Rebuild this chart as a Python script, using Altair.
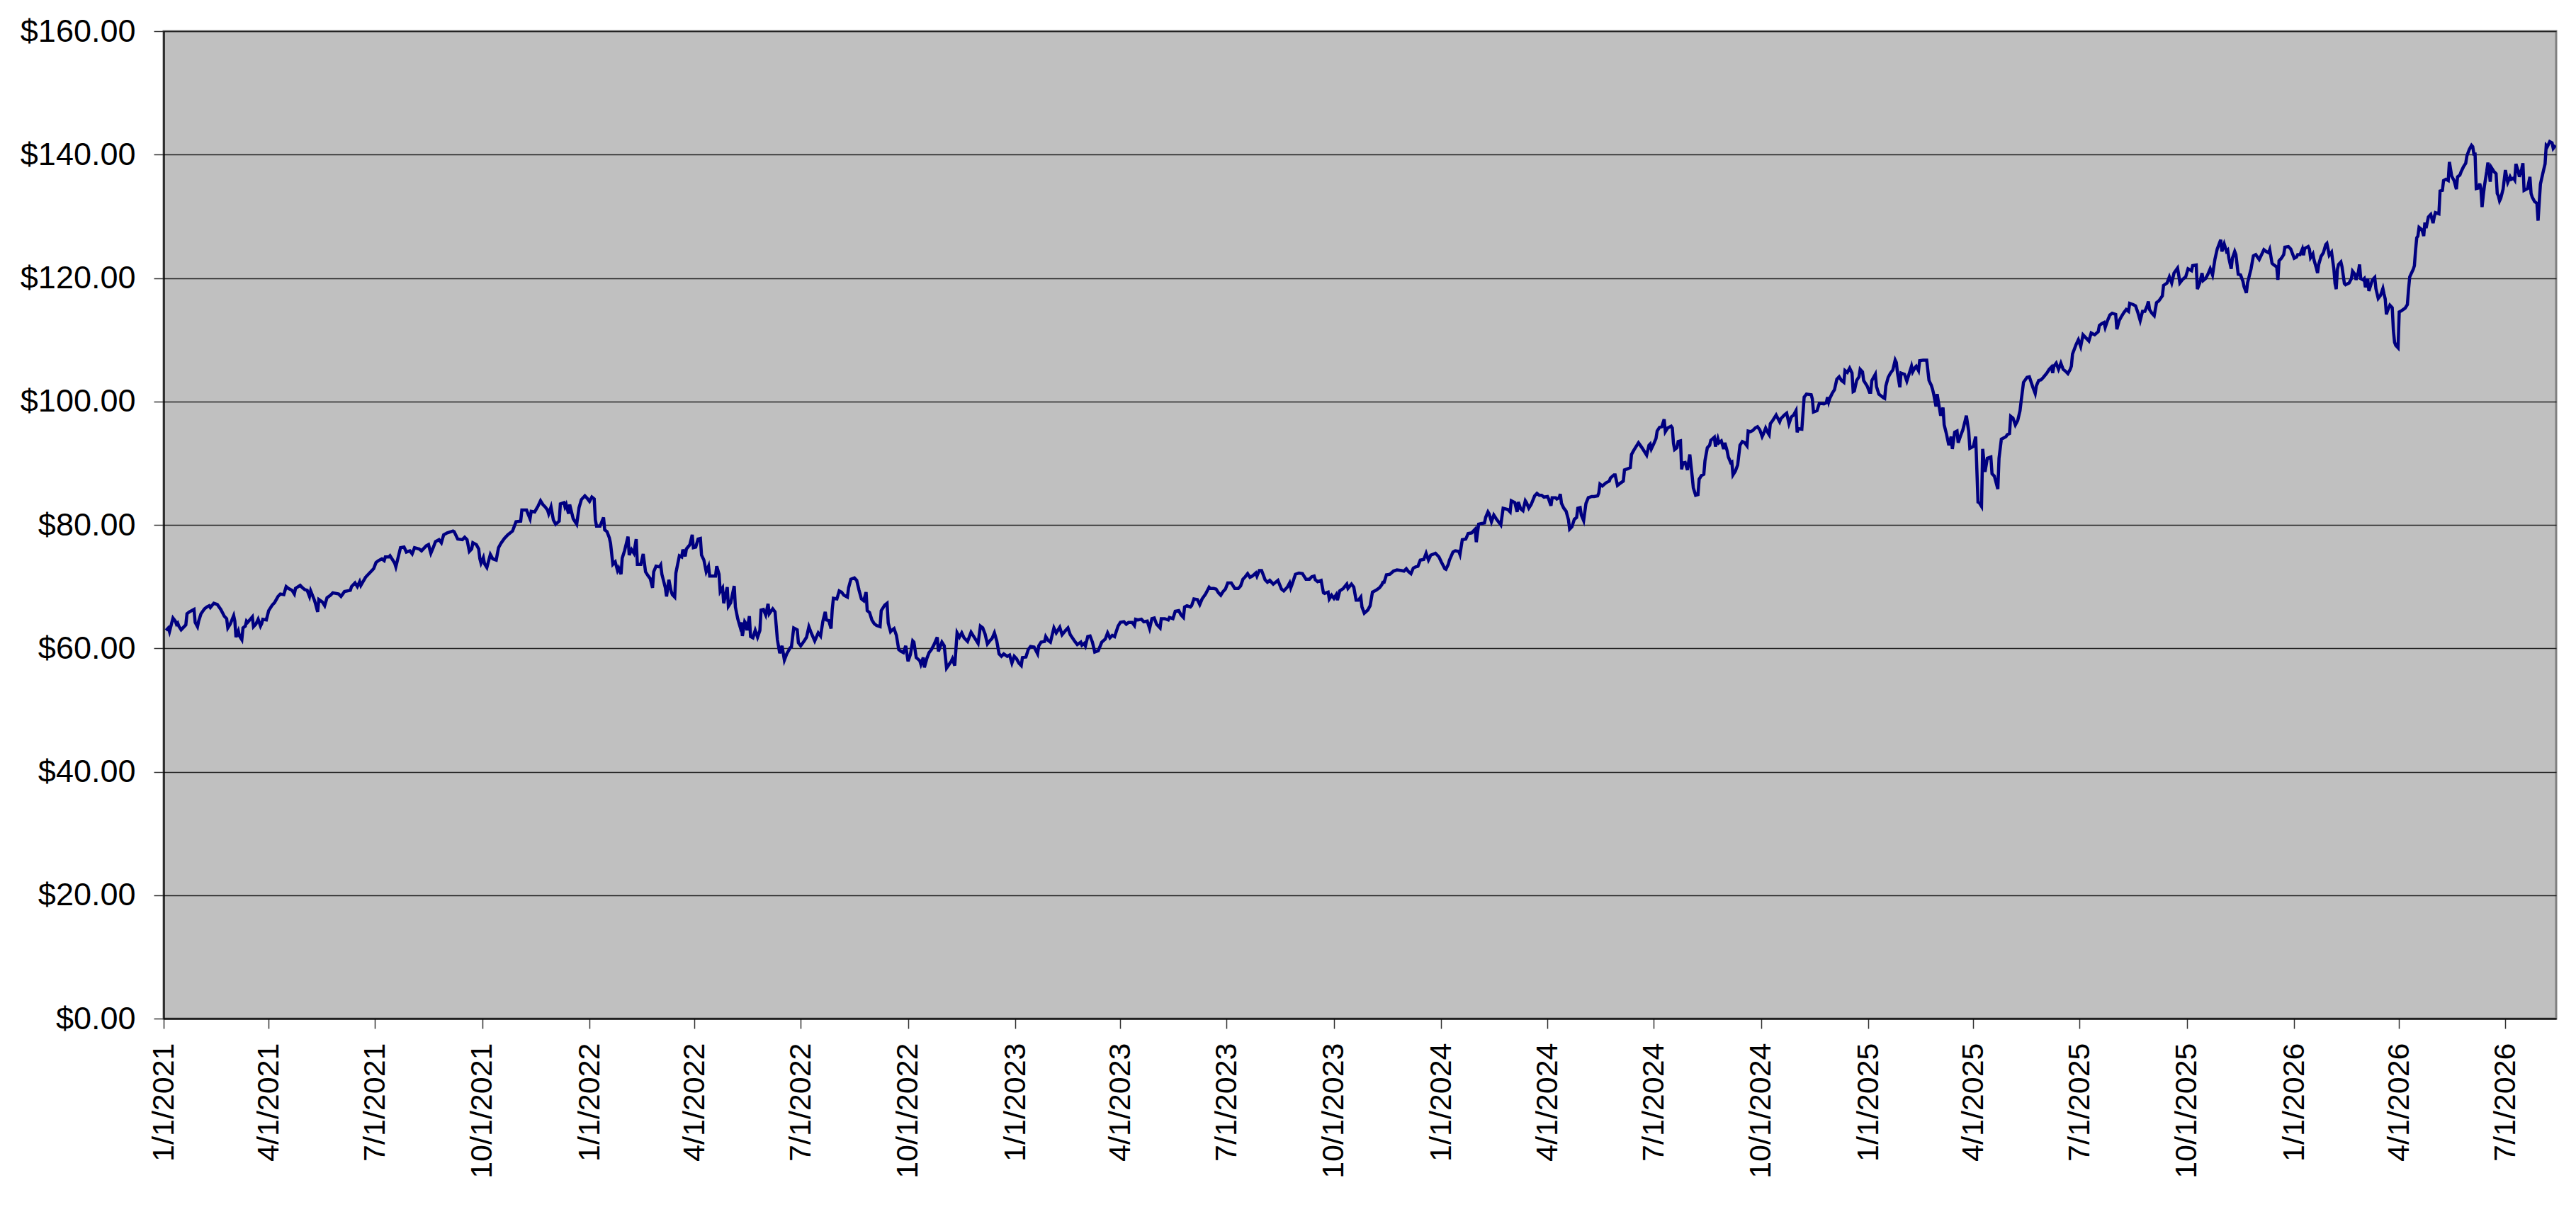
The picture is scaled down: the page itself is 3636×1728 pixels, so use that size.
import altair as alt
import pandas as pd

START_DATE = "2021-01-01"
END_DATE = "2026-08-13T12:00:00"

# (days after 1/1/2021, price)
points_2021 = [
    (2, 62.9), (4, 63.3), (5, 62.7), (8, 64.9), (10, 64.4), (11, 63.9), (12, 64.1), (13, 63.6), (15, 63.0), (17, 63.4),
    (19, 63.8), (20, 65.6), (22, 65.9), (25, 66.2), (26, 66.3), (27, 64.2), (29, 63.5), (30, 64.4), (32, 65.6), (35, 66.4),
    (37, 66.7), (39, 66.9), (40, 66.6), (43, 67.3), (46, 67.1), (49, 66.3), (52, 65.2), (54, 64.8), (55, 63.3), (57, 63.9),
    (60, 65.3), (61, 64.4), (62, 61.8), (64, 62.8), (65, 62.0), (67, 61.4), (68, 63.3), (70, 63.6), (71, 64.4), (72, 64.2),
    (76, 65.1), (77, 63.5), (79, 63.9), (81, 64.7), (83, 63.6), (84, 64.0), (85, 64.7), (88, 64.6), (90, 66.1), (93, 67.0),
    (95, 67.4), (98, 68.4), (100, 68.8), (103, 68.7), (105, 70.0), (107, 69.7), (110, 69.4), (112, 68.8), (113, 69.7), (117, 70.2),
    (119, 69.8), (121, 69.5), (123, 69.4), (125, 68.4), (126, 69.3), (129, 67.9), (130, 67.3), (132, 65.9), (133, 67.9), (136, 67.5),
    (138, 66.9), (140, 68.2), (143, 68.6), (145, 69.0), (150, 68.8), (152, 68.4), (155, 69.2), (160, 69.4), (161, 70.0), (164, 70.6),
    (166, 70.0), (168, 70.8), (169, 70.2), (173, 71.5), (175, 71.9), (180, 72.9), (182, 73.9), (184, 74.2), (187, 74.5), (189, 74.2),
    (190, 74.8), (193, 74.8), (194, 75.0), (198, 73.8), (199, 73.2), (203, 76.3), (206, 76.4), (208, 75.6), (211, 75.8), (213, 75.3),
    (215, 76.3), (219, 76.1), (221, 75.8), (225, 76.6), (227, 76.8), (229, 75.4), (231, 76.3), (233, 77.3), (236, 77.6), (238, 77.1),
    (240, 78.4), (243, 78.7), (248, 79.0), (249, 78.9), (252, 77.7), (256, 77.6), (258, 78.0), (260, 77.6), (262, 75.7), (264, 76.1),
    (265, 77.1), (268, 76.8), (270, 76.1), (271, 74.5), (272, 73.8), (274, 74.7), (275, 73.7), (277, 73.1), (280, 75.2), (282, 74.5),
    (285, 74.3), (287, 76.3), (289, 77.0), (292, 77.8), (295, 78.4), (299, 79.0), (302, 80.5), (306, 80.6), (307, 82.4), (311, 82.4),
    (314, 81.0), (315, 82.2), (318, 82.1), (321, 83.1), (323, 83.9), (325, 83.3), (327, 82.9), (329, 82.4), (330, 81.8), (332, 82.9),
    (334, 80.8), (336, 80.1), (339, 80.6), (340, 83.4), (343, 83.6), (344, 82.9), (345, 83.3), (347, 81.8), (348, 83.3), (351, 81.0),
    (354, 80.1), (356, 82.8), (358, 84.1), (361, 84.7), (363, 84.3), (365, 83.8), (367, 84.5),
]

points_2022 = [
    (369, 84.2), (370, 80.8), (371, 79.8), (374, 79.8), (377, 81.2), (378, 79.2), (380, 78.9), (382, 77.9), (383, 77.0), (385, 73.6),
    (387, 74.0), (389, 72.6), (390, 73.0), (392, 72.0), (393, 74.6), (395, 75.8), (398, 78.1), (399, 75.1), (401, 76.0), (403, 75.4),
    (405, 77.7), (406, 73.6), (409, 73.6), (411, 75.3), (413, 72.4), (415, 71.8), (417, 71.3), (419, 69.8), (420, 72.4), (422, 73.3),
    (425, 73.2), (426, 73.5), (427, 72.0), (430, 69.8), (431, 68.4), (433, 71.1), (435, 69.2), (436, 68.7), (438, 68.3), (439, 72.2),
    (442, 75.0), (444, 74.8), (445, 76.0), (447, 74.9), (448, 76.1), (451, 76.8), (453, 78.4), (454, 76.3), (456, 76.4), (458, 77.7),
    (460, 77.8), (461, 75.1), (463, 74.3), (465, 72.4), (467, 73.3), (468, 71.7), (473, 71.7), (474, 73.3), (476, 72.0), (477, 69.2),
    (479, 69.8), (480, 67.3), (483, 69.9), (484, 66.8), (486, 67.4), (489, 70.1), (490, 66.7), (492, 64.8), (494, 63.5), (495, 64.2),
    (496, 62.0), (498, 64.3), (499, 64.0), (500, 62.9), (502, 65.2), (503, 61.9), (505, 61.7), (507, 62.9), (509, 61.8), (511, 62.9),
    (512, 66.2), (514, 66.3), (516, 65.4), (518, 67.2), (519, 65.6), (522, 66.4), (524, 65.9), (526, 61.4), (528, 59.2), (530, 60.4),
    (532, 58.1), (534, 59.1), (537, 60.1), (538, 60.2), (540, 63.3), (543, 63.0), (544, 60.9), (546, 60.4), (549, 61.2), (551, 61.8),
    (553, 63.5), (555, 62.5), (558, 61.2), (561, 62.5), (563, 62.0), (565, 64.4), (567, 65.9), (568, 64.6), (570, 64.5), (572, 63.2),
    (573, 66.3), (574, 68.1), (577, 68.0), (579, 69.3), (581, 69.1), (583, 68.6), (586, 68.3), (587, 69.8), (589, 71.2), (592, 71.4),
    (594, 71.0), (596, 69.4), (598, 68.0), (600, 67.7), (602, 69.1), (603, 66.1), (605, 65.8), (607, 64.6), (609, 64.0), (611, 63.7),
    (614, 63.5), (615, 66.1), (618, 67.0), (620, 67.3), (621, 64.1), (623, 62.7), (624, 62.9), (626, 63.2), (628, 62.1), (630, 59.8),
    (632, 59.5), (634, 59.3), (636, 60.4), (638, 57.9), (640, 59.0), (642, 61.2), (643, 61.0), (645, 58.5), (648, 58.0), (649, 57.4),
    (651, 58.5), (652, 56.9), (654, 58.3), (656, 59.3), (658, 59.8), (660, 60.5), (663, 61.8), (664, 59.5), (667, 61.0), (669, 60.4),
    (671, 56.8), (675, 57.9), (676, 58.3), (678, 57.2), (680, 62.5), (682, 61.8), (684, 62.5), (686, 61.7), (689, 61.1), (692, 62.6),
    (694, 62.0), (698, 60.8), (700, 63.6), (702, 63.3), (704, 62.3), (706, 60.7), (708, 61.2), (710, 61.6), (712, 62.5), (714, 61.2),
    (716, 59.1), (718, 58.7), (720, 59.1), (723, 58.7), (725, 58.9), (727, 57.6), (729, 58.7), (731, 58.3), (733, 57.6),
]

points_2023 = [
    (735, 57.2), (736, 58.5), (739, 58.6), (741, 59.8), (743, 60.3), (746, 60.2), (749, 59.1), (750, 60.4), (752, 61.0), (755, 61.1),
    (756, 61.9), (758, 61.3), (760, 61.0), (763, 63.3), (765, 62.5), (768, 63.4), (770, 62.2), (773, 62.9), (775, 63.3), (777, 62.2),
    (781, 61.1), (783, 60.6), (786, 61.0), (787, 60.5), (789, 60.8), (790, 60.4), (792, 61.9), (794, 62.0), (796, 61.0), (798, 59.4),
    (801, 59.6), (804, 61.0), (807, 61.5), (809, 62.5), (811, 61.7), (813, 62.1), (815, 61.9), (818, 63.6), (820, 64.2), (823, 64.3),
    (825, 63.9), (827, 64.2), (830, 64.2), (832, 63.7), (833, 64.7), (835, 64.6), (838, 64.7), (840, 64.3), (843, 64.4), (845, 63.2),
    (847, 64.8), (849, 64.9), (851, 63.9), (854, 63.3), (855, 64.8), (858, 64.8), (861, 64.6), (862, 65.0), (865, 64.8), (867, 66.0),
    (870, 66.1), (872, 65.4), (874, 65.0), (875, 66.7), (877, 66.9), (880, 66.7), (881, 66.9), (883, 68.0), (886, 67.9), (888, 67.1),
    (890, 68.0), (893, 68.8), (896, 69.9), (897, 69.7), (900, 69.7), (902, 69.6), (904, 69.0), (906, 68.6), (908, 69.2), (910, 69.6),
    (912, 70.6), (915, 70.6), (918, 69.7), (921, 69.7), (923, 70.1), (925, 71.2), (927, 71.6), (929, 72.1), (931, 71.5), (933, 71.7),
    (936, 72.2), (937, 71.7), (939, 72.6), (941, 72.6), (944, 71.1), (946, 70.7), (948, 71.0), (951, 70.4), (953, 70.7), (955, 71.0),
    (958, 69.6), (960, 69.3), (963, 69.9), (965, 70.6), (966, 69.8), (967, 70.3), (970, 72.0), (973, 72.2), (976, 72.1), (979, 71.2),
    (982, 71.2), (984, 71.6), (986, 71.7), (987, 71.1), (989, 70.8), (992, 71.0), (994, 69.0), (995, 68.9), (998, 69.1), (999, 68.0),
    (1001, 68.6), (1003, 68.1), (1005, 68.7), (1006, 67.8), (1008, 69.3), (1011, 69.7), (1014, 70.4), (1015, 69.7), (1018, 70.4), (1020, 69.9),
    (1022, 67.8), (1024, 67.8), (1026, 68.3), (1027, 66.7), (1029, 65.7), (1032, 66.2), (1034, 66.9), (1036, 69.1), (1039, 69.4), (1042, 69.8),
    (1044, 70.3), (1045, 70.7), (1046, 70.7), (1048, 71.9), (1051, 72.0), (1054, 72.5), (1057, 72.7), (1061, 72.6), (1063, 72.5), (1065, 72.9),
    (1067, 72.4), (1069, 72.1), (1071, 73.0), (1073, 73.2), (1075, 73.3), (1077, 74.3), (1080, 74.4), (1082, 75.4), (1084, 74.3), (1086, 75.1),
    (1090, 75.4), (1093, 74.8), (1095, 74.0), (1098, 72.9),
]

points_2024 = [
    (1099, 72.8), (1101, 73.6), (1102, 74.3), (1105, 75.6), (1107, 75.8), (1110, 75.7), (1111, 75.2), (1113, 77.6), (1116, 77.7), (1118, 78.6),
    (1121, 78.7), (1123, 79.1), (1124, 79.3), (1125, 77.2), (1127, 80.1), (1129, 80.2), (1132, 80.3), (1133, 81.2), (1135, 82.1), (1136, 81.8),
    (1138, 80.5), (1140, 81.6), (1142, 81.0), (1144, 80.5), (1146, 80.0), (1148, 82.7), (1150, 82.6), (1152, 82.5), (1154, 82.1), (1155, 83.9),
    (1158, 83.6), (1160, 82.1), (1161, 83.7), (1163, 82.6), (1165, 82.3), (1167, 83.9), (1168, 83.6), (1170, 82.7), (1172, 83.3), (1175, 84.7),
    (1177, 85.1), (1179, 84.8), (1181, 84.8), (1183, 84.5), (1186, 84.6), (1187, 84.2), (1189, 83.1), (1190, 84.4), (1193, 84.4), (1194, 84.2),
    (1196, 84.4), (1197, 85.0), (1198, 83.5), (1200, 82.7), (1202, 82.2), (1204, 80.8), (1205, 79.3), (1207, 79.7), (1209, 80.9), (1211, 81.2),
    (1212, 82.7), (1214, 82.8), (1215, 81.6), (1217, 80.7), (1219, 83.5), (1221, 84.4), (1224, 84.6), (1226, 84.6), (1229, 84.7), (1230, 85.2),
    (1231, 86.6), (1233, 86.3), (1236, 86.8), (1237, 86.9), (1239, 87.1), (1240, 87.6), (1243, 88.1), (1244, 88.1), (1246, 86.4), (1248, 86.7),
    (1251, 87.1), (1252, 88.9), (1255, 89.1), (1257, 89.3), (1258, 91.4), (1260, 92.1), (1264, 93.3), (1267, 92.5), (1269, 91.9), (1271, 91.3),
    (1273, 92.9), (1274, 93.1), (1275, 92.3), (1277, 93.1), (1279, 94.0), (1280, 95.2), (1282, 95.8), (1284, 95.9), (1286, 97.1), (1287, 95.1),
    (1289, 95.7), (1292, 96.0), (1293, 95.7), (1294, 93.2), (1295, 92.2), (1297, 92.5), (1298, 93.5), (1300, 93.6), (1301, 89.0), (1302, 90.0),
    (1304, 90.1), (1306, 88.9), (1308, 91.4), (1310, 87.9), (1311, 86.0), (1313, 84.8), (1315, 84.9), (1316, 87.4), (1318, 88.0), (1320, 88.2),
    (1321, 90.4), (1323, 92.5), (1325, 92.9), (1326, 93.7), (1329, 94.2), (1330, 92.7), (1332, 94.0), (1333, 93.3), (1335, 93.6), (1337, 92.3),
    (1338, 93.3), (1340, 92.0), (1341, 91.0), (1343, 90.1), (1344, 90.2), (1345, 88.1), (1347, 88.7), (1349, 89.7), (1351, 92.9), (1353, 93.5),
    (1355, 93.3), (1357, 92.8), (1358, 95.2), (1360, 95.1), (1362, 95.3), (1364, 95.7), (1366, 95.9), (1368, 95.4), (1370, 94.3), (1371, 94.7),
    (1373, 95.7), (1375, 94.9), (1376, 94.6), (1377, 96.4), (1379, 96.9), (1381, 97.5), (1382, 97.8), (1385, 96.7), (1386, 97.2), (1389, 97.8),
    (1391, 98.1), (1393, 96.4), (1395, 97.5), (1397, 97.8), (1399, 98.5), (1400, 95.0), (1401, 95.6), (1404, 95.5), (1406, 100.7), (1408, 101.2),
    (1412, 101.1), (1413, 100.4), (1414, 98.3), (1417, 98.5), (1419, 99.7), (1423, 99.6), (1425, 99.8), (1426, 100.7), (1427, 99.9), (1428, 100.5),
    (1430, 101.3), (1432, 101.9), (1434, 103.6), (1436, 104.0), (1438, 103.4), (1440, 103.1), (1441, 105.0), (1443, 104.7), (1445, 105.4), (1447, 104.6),
    (1448, 101.6), (1449, 101.7), (1451, 103.4), (1453, 104.0), (1454, 105.2), (1456, 104.8), (1457, 103.4), (1460, 102.5), (1462, 101.5),
]

points_2025 = [
    (1463, 101.5), (1464, 103.4), (1467, 104.4), (1468, 102.4), (1470, 101.2), (1472, 100.9), (1474, 100.6), (1475, 100.5), (1476, 102.5), (1478, 103.9),
    (1480, 104.6), (1482, 105.1), (1484, 106.7), (1485, 106.3), (1486, 104.6), (1488, 102.3), (1489, 104.6), (1492, 104.4), (1494, 103.3), (1496, 104.5),
    (1498, 105.7), (1499, 104.8), (1501, 105.5), (1502, 105.7), (1504, 105.0), (1505, 106.6), (1508, 106.7), (1511, 106.7), (1513, 103.4), (1515, 102.6),
    (1516, 102.0), (1517, 101.2), (1519, 99.2), (1520, 101.2), (1521, 100.0), (1523, 97.7), (1525, 99.0), (1526, 96.2), (1528, 94.7), (1530, 92.9),
    (1532, 94.3), (1533, 92.3), (1535, 95.0), (1537, 95.2), (1538, 93.3), (1540, 94.4), (1542, 95.4), (1544, 96.9), (1545, 97.7), (1547, 95.2),
    (1548, 92.4), (1551, 92.7), (1553, 94.3), (1555, 83.7), (1556, 83.6), (1558, 83.0), (1559, 92.3), (1561, 88.6), (1563, 90.8), (1566, 91.0),
    (1567, 88.3), (1569, 87.9), (1572, 85.8), (1573, 90.8), (1575, 93.9), (1577, 94.1), (1579, 94.3), (1580, 94.6), (1582, 94.8), (1583, 97.6),
    (1585, 97.3), (1587, 96.2), (1589, 96.9), (1591, 98.5), (1592, 100.1), (1594, 103.1), (1597, 103.9), (1599, 104.0), (1602, 102.3), (1604, 101.3),
    (1605, 102.5), (1607, 103.4), (1609, 103.5), (1611, 103.9), (1614, 104.6), (1616, 105.2), (1618, 105.6), (1619, 104.6), (1620, 105.7), (1622, 106.2),
    (1624, 105.2), (1626, 106.2), (1628, 105.2), (1630, 104.9), (1632, 104.5), (1634, 105.2), (1635, 105.7), (1636, 107.7), (1639, 109.2), (1641, 110.0),
    (1643, 108.9), (1645, 110.8), (1648, 110.2), (1650, 109.8), (1652, 111.1), (1655, 110.8), (1658, 111.3), (1659, 112.3), (1661, 112.6), (1663, 112.8),
    (1664, 112.0), (1666, 113.1), (1668, 114.0), (1670, 114.3), (1673, 114.1), (1674, 111.7), (1676, 113.1), (1678, 113.8), (1680, 114.4), (1682, 114.9),
    (1684, 114.6), (1685, 115.9), (1688, 115.7), (1690, 115.5), (1692, 114.4), (1694, 113.1), (1696, 114.6), (1698, 114.6), (1700, 115.5), (1701, 116.2),
    (1702, 114.9), (1704, 114.3), (1706, 113.9), (1708, 116.0), (1710, 116.3), (1713, 117.1), (1714, 118.8), (1717, 119.2), (1719, 120.2), (1721, 119.2),
    (1723, 120.8), (1726, 121.6), (1727, 120.5), (1728, 119.2), (1730, 119.7), (1733, 120.2), (1735, 121.5), (1738, 121.2), (1739, 122.0), (1742, 122.1),
    (1743, 118.2), (1745, 119.2), (1747, 120.8), (1748, 119.6), (1750, 119.9), (1752, 120.6), (1754, 121.5), (1756, 120.5), (1758, 123.0), (1760, 124.7),
    (1763, 126.2), (1764, 124.3), (1766, 125.5), (1768, 124.3), (1769, 124.5), (1770, 123.2), (1772, 121.5), (1773, 123.2), (1775, 124.3), (1776, 123.8),
    (1778, 120.6), (1780, 120.5), (1782, 119.5), (1783, 118.6), (1785, 117.6), (1786, 119.2), (1789, 121.5), (1791, 123.6), (1793, 123.8), (1796, 123.0),
    (1800, 124.6), (1802, 124.3), (1804, 124.1), (1805, 124.6), (1807, 122.4), (1808, 122.2), (1811, 121.8), (1812, 119.7), (1813, 122.8), (1815, 123.2),
    (1817, 123.8), (1818, 125.0), (1821, 125.1), (1823, 124.7), (1826, 123.2), (1828, 123.4), (1829, 123.8),
]

points_2026 = [
    (1831, 123.8), (1833, 124.7), (1834, 123.7), (1835, 124.8), (1838, 125.1), (1839, 124.7), (1840, 123.3), (1842, 123.9), (1843, 122.9), (1845, 121.6),
    (1846, 120.8), (1847, 122.2), (1849, 123.5), (1851, 124.1), (1853, 125.4), (1854, 125.6), (1855, 124.7), (1856, 123.7), (1858, 124.2), (1860, 121.4),
    (1861, 119.1), (1862, 118.2), (1863, 121.4), (1864, 122.2), (1866, 122.6), (1867, 121.8), (1869, 119.1), (1870, 118.9), (1873, 119.2), (1875, 119.9),
    (1876, 121.1), (1878, 120.6), (1879, 119.7), (1881, 121.0), (1882, 122.2), (1883, 119.9), (1885, 119.7), (1886, 119.9), (1887, 118.5), (1889, 119.9),
    (1890, 117.9), (1892, 119.1), (1893, 119.7), (1895, 120.1), (1896, 118.3), (1898, 116.7), (1900, 117.2), (1902, 118.3), (1903, 117.4), (1904, 116.6),
    (1905, 114.1), (1906, 114.7), (1908, 115.6), (1910, 115.2), (1911, 111.5), (1912, 109.6), (1913, 109.1), (1915, 108.7), (1916, 114.5), (1918, 114.7),
    (1921, 115.1), (1923, 115.7), (1924, 118.2), (1925, 120.2), (1928, 121.4), (1929, 122.0), (1930, 124.5), (1931, 126.5), (1932, 126.8), (1933, 128.2),
    (1935, 127.9), (1936, 127.5), (1937, 126.8), (1938, 129.0), (1939, 128.1), (1941, 129.9), (1943, 130.3), (1945, 128.9), (1946, 129.9), (1947, 130.6),
    (1950, 130.4), (1951, 134.1), (1953, 134.2), (1954, 135.8), (1956, 136.0), (1958, 135.8), (1959, 138.8), (1961, 136.5), (1963, 135.8), (1965, 134.4),
    (1966, 136.4), (1968, 136.7), (1969, 137.2), (1971, 138.0), (1973, 138.6), (1974, 139.8), (1976, 140.8), (1978, 141.5), (1979, 141.3), (1980, 140.1),
    (1981, 140.1), (1982, 134.5), (1984, 134.6), (1985, 135.3), (1986, 134.5), (1987, 131.5), (1988, 133.3), (1989, 134.9), (1991, 137.3), (1992, 138.7),
    (1993, 137.5), (1994, 135.6), (1995, 137.9), (1997, 137.3), (1999, 136.9), (2000, 133.7), (2001, 133.3), (2002, 132.5), (2003, 132.9), (2005, 134.4),
    (2007, 137.5), (2008, 136.4), (2009, 135.5), (2011, 136.4), (2012, 136.0), (2014, 136.2), (2015, 135.9), (2016, 138.5), (2018, 137.3), (2019, 136.4),
    (2021, 137.7), (2022, 138.6), (2023, 134.2), (2025, 134.4), (2026, 134.5), (2028, 136.4), (2029, 133.7), (2030, 133.1), (2032, 132.4), (2034, 132.1),
    (2035, 129.3), (2037, 135.2), (2039, 136.9), (2041, 138.5), (2042, 141.5), (2043, 141.3), (2045, 142.1), (2047, 141.9), (2048, 141.0), (2050, 141.5),
]

tick_dates = [
    "2021-01-01", "2021-04-01", "2021-07-01", "2021-10-01",
    "2022-01-01", "2022-04-01", "2022-07-01", "2022-10-01",
    "2023-01-01", "2023-04-01", "2023-07-01", "2023-10-01",
    "2024-01-01", "2024-04-01", "2024-07-01", "2024-10-01",
    "2025-01-01", "2025-04-01", "2025-07-01", "2025-10-01",
    "2026-01-01", "2026-04-01", "2026-07-01",
]
y_ticks = [0, 20, 40, 60, 80, 100, 120, 140, 160]

rows = []
for pts in [points_2021, points_2022, points_2023, points_2024, points_2025, points_2026]:
    rows.extend(pts)
df = pd.DataFrame(rows, columns=["day", "price"])
df["date"] = (pd.Timestamp(START_DATE) + pd.to_timedelta(df["day"], unit="D")).dt.strftime("%Y-%m-%d")


def ms(s):
    return int(pd.Timestamp(s, tz="UTC").value // 10**6)


x_values = [ms(d) for d in tick_dates]
x_domain = [ms(START_DATE), ms(END_DATE)]

FONT = "Liberation Sans"
W, H = 3377, 1394

x_enc = alt.X(
    "date:T",
    scale=alt.Scale(type="utc", domain=x_domain, nice=False),
    axis=alt.Axis(
        values=x_values,
        labelExpr="utcFormat(datum.value, '%-m/%-d/%Y')",
        labelAngle=270,
        labelFont=FONT,
        labelFontSize=43,
        labelColor="#000000",
        labelPadding=20,
        labelOverlap=False,
        labelFlush=False,
        labelBound=False,
        labelLimit=1000,
        tickSize=14,
        tickColor="#333333",
        tickWidth=1.5,
        domainColor="#000000",
        domainWidth=2,
        grid=False,
        title=None,
    ),
)
y_enc = alt.Y(
    "price:Q",
    scale=alt.Scale(domain=[0, 160], nice=False, zero=True),
    axis=alt.Axis(
        values=y_ticks,
        format="$.2f",
        labelFont=FONT,
        labelFontSize=45,
        labelColor="#000000",
        labelPadding=26,
        labelLimit=1000,
        tickSize=14,
        tickColor="#333333",
        tickWidth=1.5,
        domainColor="#000000",
        domainWidth=2,
        grid=True,
        gridColor="#222222",
        gridWidth=1.5,
        title=None,
    ),
)

line = alt.Chart(df).mark_line(color="#000080", strokeWidth=4.5, clip=True).encode(x=x_enc, y=y_enc)

chart = (
    line.properties(
        width=W,
        height=H,
        autosize=alt.AutoSizeParams(type="none"),
        padding={"left": 223, "top": 36, "right": 20, "bottom": 282},
        background="#FFFFFF",
    )
    .configure_view(fill="#C0C0C0", stroke="#808080", strokeWidth=3)
)

chart.save("out.html", embed_options={"renderer": "svg", "actions": False})
